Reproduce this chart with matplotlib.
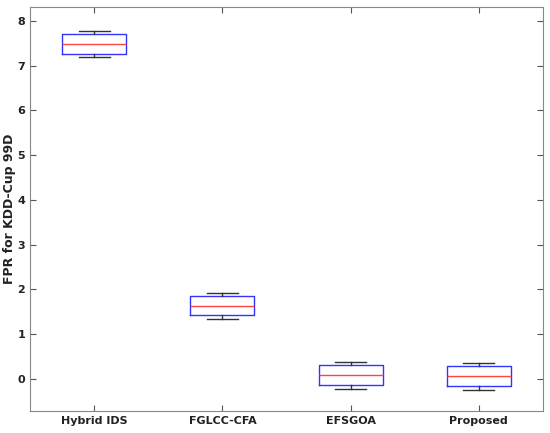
import matplotlib
matplotlib.use("Agg")
import matplotlib.pyplot as plt

# values
methods = ["Hybrid IDS", "FGLCC-CFA", "EFSGOA", "Proposed"]
whis_low = [7.20, 1.34, -0.22, -0.25]
q1 = [7.26, 1.43, -0.14, -0.16]
medians = [7.49, 1.63, 0.09, 0.06]
q3 = [7.71, 1.85, 0.31, 0.29]
whis_high = [7.78, 1.92, 0.38, 0.35]

stats = []
for i, name in enumerate(methods):
    stats.append({
        "label": name,
        "whislo": whis_low[i],
        "q1": q1[i],
        "med": medians[i],
        "q3": q3[i],
        "whishi": whis_high[i],
        "fliers": [],
    })

plt.rcParams["font.weight"] = "bold"

fig = plt.figure(figsize=(5.5, 4.33), dpi=100)
ax = fig.add_axes([30 / 550, 22 / 433, 513 / 550, 404 / 433])

ax.bxp(stats, positions=[1, 2, 3, 4], widths=0.5, capwidths=0.24,
       showfliers=False,
       boxprops=dict(color="#3333ff", linewidth=1.0),
       medianprops=dict(color="#ff4444", linewidth=1.0),
       whiskerprops=dict(color="#333333", linewidth=1.0, linestyle="-"),
       capprops=dict(color="#333333", linewidth=1.0))

ax.set_xlim(0.5, 4.5)
ax.set_ylim(-0.72, 8.31)
ax.set_yticks(range(0, 9))
ax.set_xticks([1, 2, 3, 4])
ax.set_xticklabels(methods, fontsize=8, fontweight="bold", color="#222222")
ax.set_ylabel("FPR for KDD-Cup 99D", fontsize=9, fontweight="bold",
              color="#222222", labelpad=1)
ax.tick_params(axis="both", direction="in", top=True, right=True,
               length=4, color="#555555", labelsize=8, labelcolor="#222222")
for lbl in ax.get_yticklabels():
    lbl.set_fontweight("bold")
for sp in ax.spines.values():
    sp.set_color("#888888")

fig.savefig("out.png", dpi=100)
